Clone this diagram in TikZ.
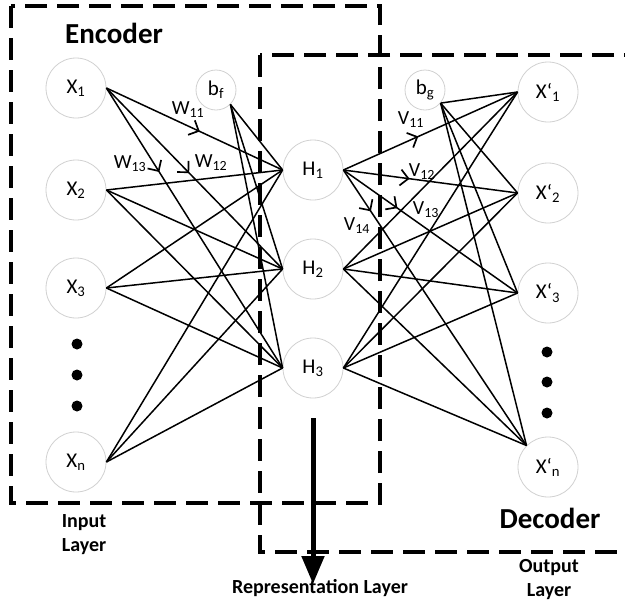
\documentclass[tikz,border=0pt]{standalone}
\usepackage{fontspec}
\setmainfont{Carlito}
\usetikzlibrary{arrows.meta,decorations.markings}

\newcommand{\bq}{{\char96}}

\tikzset{
  neuron/.style={circle, draw=black!18, line width=0.8pt, fill=white,
    minimum size=60pt, inner sep=0pt, font=\fontsize{21}{24}\selectfont},
  biasnode/.style={neuron, minimum size=40pt},
  wire/.style={line width=1.5pt, black},
  weighted/.style={wire, postaction={decorate, decoration={markings,
    mark=at position #1 with {\arrow{Straight Barb[length=8pt,width=16pt,line width=1.7pt]}}}}},
  wlabel/.style={font=\fontsize{20}{22}\selectfont, inner sep=0pt},
  groupbox/.style={line width=3.2pt, dash pattern=on 22pt off 10pt},
  title/.style={font=\fontsize{29}{31}\selectfont\bfseries, inner sep=0pt},
  caption/.style={font=\fontsize{20}{22}\selectfont\bfseries, align=center, inner sep=0pt},
  dot/.style={circle, fill=black, inner sep=0pt, minimum size=11pt}
}

\begin{document}
\begin{tikzpicture}[x=1pt, y=-1pt]
\clip (0,0) rectangle (625,606);
\fill[white] (0,0) rectangle (625,606);

% input layer
\node[neuron] (x1) at (76,88) {X\textsubscript{1}};
\node[neuron] (x2) at (76,190) {X\textsubscript{2}};
\node[neuron] (x3) at (76,288) {X\textsubscript{3}};
\node[neuron] (xn) at (76,462) {X\textsubscript{n}};
\node[dot] (ldot1) at (77,344) {};
\node[dot] (ldot2) at (77,375) {};
\node[dot] (ldot3) at (77,406) {};
\node[biasnode] (bf) at (216,90) {b\textsubscript{f}};

% representation layer
\node[neuron] (h1) at (313,170) {H\textsubscript{1}};
\node[neuron] (h2) at (313,269) {H\textsubscript{2}};
\node[neuron] (h3) at (313,368) {H\textsubscript{3}};

% output layer
\node[biasnode] (bg) at (425,90) {b\textsubscript{g}};
\node[neuron] (y1) at (548,92) {X\bq\textsubscript{1}};
\node[neuron] (y2) at (548,193) {X\bq\textsubscript{2}};
\node[neuron] (y3) at (548,293) {X\bq\textsubscript{3}};
\node[neuron] (yn) at (548,467) {X\bq\textsubscript{n}};
\node[dot] (rdot1) at (547,352) {};
\node[dot] (rdot2) at (547,382) {};
\node[dot] (rdot3) at (547,413) {};

% encoder weights
\draw[weighted=0.53] (x1.east) -- (h1.west);
\draw[weighted=0.47] (x1.east) -- (h2.west);
\draw[weighted=0.30] (x1.east) -- (h3.west);
\foreach \s in {x2,x3,xn}
  \foreach \t in {h1,h2,h3}
    \draw[wire] (\s.east) -- (\t.west);
\foreach \t in {h1,h2,h3}
  \draw[wire] (bf.-45) -- (\t.west);

% decoder weights
\draw[weighted=0.43] (h1.east) -- (y1.west);
\draw[weighted=0.38] (h1.east) -- (y2.west);
\draw[weighted=0.31] (h1.east) -- (y3.west);
\draw[weighted=0.15] (h1.east) -- (yn.135);
\foreach \s in {h2,h3}{
  \foreach \t in {y1,y2,y3}
    \draw[wire] (\s.east) -- (\t.west);
  \draw[wire] (\s.east) -- (yn.135);
}
\foreach \t in {y1,y2,y3}
  \draw[wire] (bg.-40) -- (\t.west);
\draw[wire] (bg.-40) -- (yn.135);

% weight labels
\node[wlabel] (w11) at (188,110) {W\textsubscript{11}};
\node[wlabel] (w12) at (211,163) {W\textsubscript{12}};
\node[wlabel] (w13) at (130,164) {W\textsubscript{13}};
\node[wlabel] (v11) at (411,120) {V\textsubscript{11}};
\node[wlabel] (v12) at (422,172) {V\textsubscript{12}};
\node[wlabel] (v13) at (426,210) {V\textsubscript{13}};
\node[wlabel] (v14) at (357,226) {V\textsubscript{14}};

% encoder / decoder groups
\draw[groupbox] (11,6) rectangle (380,503);
\draw[groupbox] (260,55) rectangle (660,552);
\node[title] (enc) at (114,33) {Encoder};
\node[title] (dec) at (550,518) {Decoder};

% representation output
\coordinate (rep) at (313,584);
\draw[line width=5pt, -{Triangle[length=28pt,width=22pt]}] (313,418) -- (rep);

% layer captions
\node[caption] (inlab) at (84,535) {Input\\[2pt]Layer};
\node[caption] (replab) at (320,588) {Representation Layer};
\node[caption] (outlab) at (549,580) {Output\\[2pt]Layer};
\end{tikzpicture}
\end{document}
